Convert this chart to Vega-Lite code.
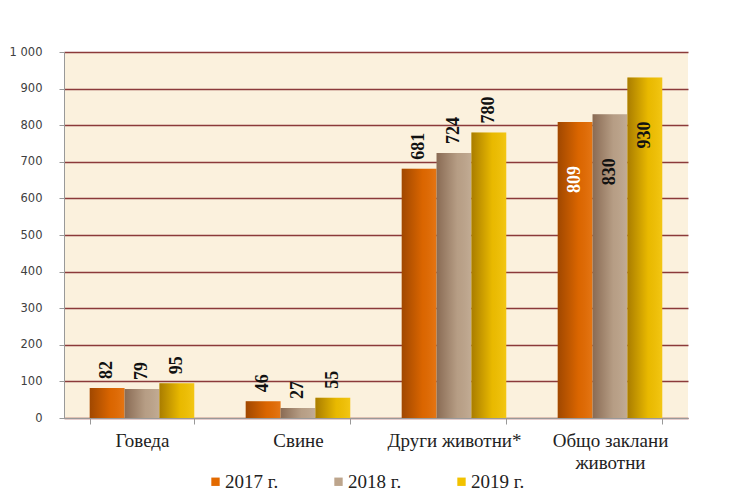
{
  "$schema": "https://vega.github.io/schema/vega-lite/v6.json",
  "width": 624,
  "height": 366,
  "autosize": {"type": "none"},
  "padding": {"left": 64, "top": 52, "right": 53, "bottom": 82},
  "background": "white",
  "config": {"view": {"fill": "#fbf1dd", "stroke": null}},
  "data": {
    "values": [
      {"cat": "Говеда", "year": "2017 г.", "value": 82},
      {"cat": "Говеда", "year": "2018 г.", "value": 79},
      {"cat": "Говеда", "year": "2019 г.", "value": 95},
      {"cat": "Свине", "year": "2017 г.", "value": 46},
      {"cat": "Свине", "year": "2018 г.", "value": 27},
      {"cat": "Свине", "year": "2019 г.", "value": 55},
      {"cat": "Други животни*", "year": "2017 г.", "value": 681},
      {"cat": "Други животни*", "year": "2018 г.", "value": 724},
      {"cat": "Други животни*", "year": "2019 г.", "value": 780},
      {"cat": "Общо заклани животни", "year": "2017 г.", "value": 809},
      {"cat": "Общо заклани животни", "year": "2018 г.", "value": 830},
      {"cat": "Общо заклани животни", "year": "2019 г.", "value": 930}
    ]
  },
  "encoding": {
    "x": {
      "field": "cat",
      "type": "nominal",
      "sort": ["Говеда", "Свине", "Други животни*", "Общо заклани животни"],
      "scale": {"paddingInner": 0.33, "paddingOuter": 0.165},
      "axis": {
        "title": null,
        "labelAngle": 0,
        "labelLimit": 0,
        "labelFont": "Liberation Serif",
        "labelFontSize": 19,
        "labelColor": "#222222",
        "labelPadding": 7,
        "labelLineHeight": 22,
        "labelExpr": "datum.label == 'Общо заклани животни' ? ['Общо заклани', 'животни'] : datum.label",
        "tickBand": "extent",
        "tickSize": 6,
        "tickColor": "#999999",
        "domainColor": "#999999"
      }
    },
    "xOffset": {"field": "year", "type": "nominal", "sort": ["2017 г.", "2018 г.", "2019 г."]},
    "y": {
      "field": "value",
      "type": "quantitative",
      "scale": {"domain": [0, 1000]},
      "axis": {
        "title": null,
        "values": [0, 100, 200, 300, 400, 500, 600, 700, 800, 900, 1000],
        "labelExpr": "replace(format(datum.value, ','), ',', ' ')",
        "labelFont": "DejaVu Sans",
        "labelFontSize": 11.5,
        "labelColor": "#404040",
        "labelPadding": 17,
        "tickSize": 5,
        "tickColor": "#999999",
        "domainColor": "#999999",
        "gridColor": "#8b3a3a",
        "gridWidth": 1.5
      }
    }
  },
  "layer": [
    {
      "mark": {"type": "bar"},
      "encoding": {
        "color": {
          "field": "year",
          "type": "nominal",
          "scale": {"domain": ["2017 г.", "2018 г.", "2019 г."], "range": ["#e36a00", "#bda58c", "#f2c200"]},
          "legend": {
            "title": null,
            "orient": "none",
            "legendX": 142,
            "legendY": 420,
            "direction": "horizontal",
            "symbolType": "square",
            "symbolSize": 70,
            "symbolStrokeWidth": 0,
            "labelFont": "Liberation Serif",
            "labelFontSize": 19,
            "labelColor": "#222222",
            "labelOffset": 0,
            "columnPadding": 50
          }
        }
      }
    },
    {
      "mark": {
        "type": "bar",
        "color": {
          "gradient": "linear",
          "x1": 0, "x2": 1, "y1": 0, "y2": 0,
          "stops": [
            {"offset": 0, "color": "rgba(60,20,0,0.4)"},
            {"offset": 0.6, "color": "rgba(60,20,0,0.05)"},
            {"offset": 1, "color": "rgba(255,255,255,0.08)"}
          ]
        }
      }
    },
    {
      "transform": [{"filter": "datum.cat != 'Общо заклани животни'"}],
      "mark": {"type": "text", "angle": -90, "align": "left", "baseline": "middle", "dx": 9, "font": "Liberation Serif", "fontWeight": "bold", "fontSize": 18, "color": "#111111"},
      "encoding": {"text": {"field": "value", "type": "quantitative"}}
    },
    {
      "transform": [{"filter": "datum.cat == 'Общо заклани животни'"}],
      "mark": {"type": "text", "angle": -90, "align": "right", "baseline": "middle", "dx": -44, "font": "Liberation Serif", "fontWeight": "bold", "fontSize": 18},
      "encoding": {
        "text": {"field": "value", "type": "quantitative"},
        "color": {"condition": {"test": "datum.year == '2017 г.'", "value": "white"}, "value": "#111111"}
      }
    }
  ]
}
